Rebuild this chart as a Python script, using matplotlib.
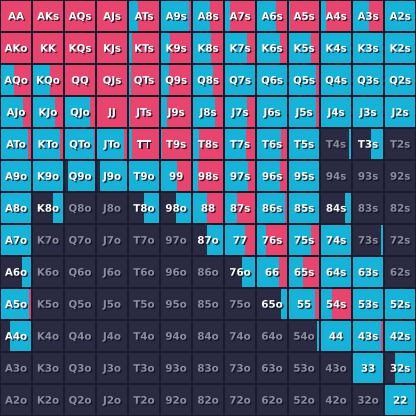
import matplotlib
matplotlib.use("Agg")
import matplotlib.pyplot as plt
import matplotlib.patheffects as pe
import numpy as np

ranks = ["A", "K", "Q", "J", "T", "9", "8", "7", "6", "5", "4", "3", "2"]

# raise frequency per cell (row = first rank, col = second rank)
raise_freq = [
    [1.00, 1.00, 1.00, 1.00, 0.70, 0.06, 0.43, 0.85, 0.35, 0.97, 0.85, 0.45, 0.00],
    [1.00, 1.00, 1.00, 1.00, 0.92, 0.70, 0.38, 0.27, 0.23, 0.25, 0.00, 0.00, 0.00],
    [0.58, 0.43, 1.00, 1.00, 0.95, 0.75, 0.32, 0.00, 0.00, 0.08, 0.00, 0.00, 0.00],
    [0.26, 0.27, 0.17, 1.00, 0.97, 0.82, 0.27, 0.27, 0.00, 0.08, 0.00, 0.00, 0.00],
    [0.09, 0.08, 0.03, 0.08, 0.90, 0.97, 0.82, 0.28, 0.18, 0.00, 0.00, 0.00, 0.00],
    [0.00, 0.00, 0.00, 0.00, 0.00, 0.45, 0.85, 0.22, 0.22, 0.00, 0.00, 0.00, 0.00],
    [0.00, 0.00, 0.00, 0.00, 0.00, 0.00, 0.52, 0.60, 0.04, 0.00, 0.00, 0.00, 0.00],
    [0.00, 0.00, 0.00, 0.00, 0.00, 0.00, 0.00, 0.33, 0.70, 0.25, 0.00, 0.00, 0.00],
    [0.00, 0.00, 0.00, 0.00, 0.00, 0.00, 0.00, 0.00, 0.25, 0.55, 0.00, 0.00, 0.00],
    [0.05, 0.00, 0.00, 0.00, 0.00, 0.00, 0.00, 0.00, 0.00, 0.12, 0.63, 0.00, 0.00],
    [0.00, 0.00, 0.00, 0.00, 0.00, 0.00, 0.00, 0.00, 0.00, 0.00, 0.00, 0.05, 0.00],
    [0.00, 0.00, 0.00, 0.00, 0.00, 0.00, 0.00, 0.00, 0.00, 0.00, 0.00, 0.00, 0.00],
    [0.00, 0.00, 0.00, 0.00, 0.00, 0.00, 0.00, 0.00, 0.00, 0.00, 0.00, 0.00, 0.00],
]

# call frequency per cell
call_freq = [
    [0.00, 0.00, 0.00, 0.00, 0.30, 0.94, 0.57, 0.15, 0.65, 0.03, 0.15, 0.55, 1.00],
    [0.00, 0.00, 0.00, 0.00, 0.08, 0.30, 0.62, 0.73, 0.77, 0.75, 1.00, 1.00, 1.00],
    [0.42, 0.57, 0.00, 0.00, 0.05, 0.25, 0.68, 1.00, 1.00, 0.92, 1.00, 1.00, 1.00],
    [0.74, 0.73, 0.83, 0.00, 0.03, 0.18, 0.73, 0.73, 1.00, 0.92, 1.00, 1.00, 1.00],
    [0.91, 0.92, 0.97, 0.92, 0.10, 0.03, 0.18, 0.72, 0.82, 1.00, 0.06, 0.38, 0.00],
    [1.00, 1.00, 0.90, 0.92, 1.00, 0.55, 0.15, 0.78, 0.78, 1.00, 0.00, 0.00, 0.00],
    [1.00, 0.33, 0.00, 0.00, 0.50, 0.50, 0.48, 0.40, 0.96, 1.00, 0.20, 0.00, 0.00],
    [1.00, 0.00, 0.00, 0.00, 0.00, 0.00, 0.55, 0.67, 0.30, 0.75, 1.00, 0.07, 0.00],
    [0.30, 0.00, 0.00, 0.00, 0.00, 0.00, 0.00, 0.43, 0.75, 0.45, 1.00, 1.00, 0.00],
    [0.95, 0.00, 0.00, 0.00, 0.00, 0.00, 0.00, 0.00, 0.18, 0.88, 0.37, 1.00, 1.00],
    [0.70, 0.00, 0.00, 0.00, 0.00, 0.00, 0.00, 0.00, 0.00, 0.05, 1.00, 0.95, 1.00],
    [0.00, 0.00, 0.00, 0.00, 0.00, 0.00, 0.00, 0.00, 0.00, 0.00, 0.00, 1.00, 0.67],
    [0.00, 0.00, 0.00, 0.00, 0.00, 0.00, 0.00, 0.00, 0.00, 0.00, 0.00, 0.00, 1.00],
]

BG = "#1b1b2b"
FOLD = "#2a2b42"
CALL = "#17b2d8"
RAISE = "#e8456e"
TXT_ON = "#ffffff"
TXT_OFF = "#8c8ca2"

n = len(ranks)
R = np.array(raise_freq)
C = np.array(call_freq)
F = np.clip(1.0 - R - C, 0, 1)

fig = plt.figure(figsize=(4.16, 4.16), dpi=100, facecolor=BG)
ax = fig.add_axes([0, 0, 1, 1])
ax.set_facecolor(BG)
ax.set_xlim(0, n)
ax.set_ylim(n, 0)
ax.axis("off")

inset = 0.045
width_scale = 1 - 2 * inset
h = 1 - 2 * inset

for i in range(n):
    y = np.full(n, i + 0.5)
    left0 = np.arange(n) + inset
    ax.barh(y, F[i] * width_scale, left=left0, height=h, color=FOLD, linewidth=0)
    ax.barh(y, C[i] * width_scale, left=left0 + F[i] * width_scale, height=h, color=CALL, linewidth=0)
    ax.barh(y, R[i] * width_scale, left=left0 + (F[i] + C[i]) * width_scale, height=h, color=RAISE, linewidth=0)

shadow = [pe.SimplePatchShadow(offset=(1, -1), shadow_rgbFace="#10101c", alpha=0.8), pe.Normal()]

for i in range(n):
    for j in range(n):
        if i == j:
            label = ranks[i] + ranks[j]
        elif j > i:
            label = ranks[i] + ranks[j] + "s"
        else:
            label = ranks[j] + ranks[i] + "o"
        col = TXT_ON if F[i, j] < 0.9 else TXT_OFF
        ax.text(j + 0.5, i + 0.52, label, ha="center", va="center", color=col,
                fontsize=7.4, fontweight="bold", family="DejaVu Sans", path_effects=shadow)

fig.savefig("out.png", dpi=100, facecolor=BG)
